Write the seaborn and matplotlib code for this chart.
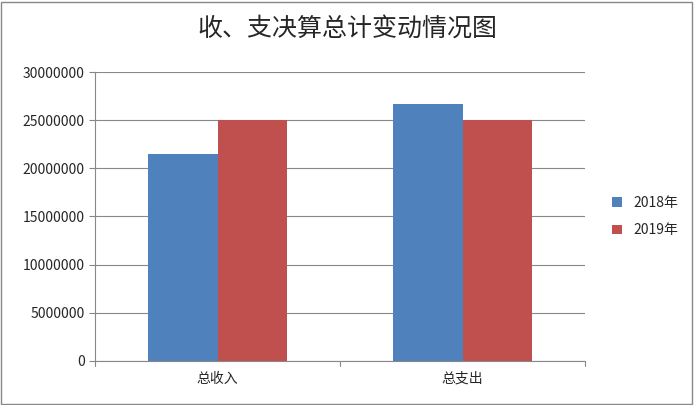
import matplotlib
matplotlib.use("Agg")
import matplotlib.pyplot as plt
import seaborn as sns
import pandas as pd
from matplotlib.patches import Rectangle

categories = ["总收入", "总支出"]
years = ["2018年", "2019年"]
v2018 = [21500000, 26700000]
v2019 = [25000000, 25000000]

df = pd.DataFrame({
    "cat": categories * 2,
    "year": [years[0]] * 2 + [years[1]] * 2,
    "val": v2018 + v2019,
})

sns.set_style("white")
plt.rcParams['font.family'] = ['Noto Sans CJK SC', 'DejaVu Sans']

fig = plt.figure(figsize=(6.94, 4.05), dpi=100)
ax = fig.add_axes([0.137, 0.109, 0.706, 0.713])
sns.barplot(data=df, x="cat", y="val", hue="year", palette=["#4F81BD", "#C0504D"],
            width=0.57, ax=ax, saturation=1, edgecolor="none")
ax.set_ylim(0, 30000000)
ax.set_xlim(-0.5, 1.5)
ax.set_yticks(range(0, 30000001, 5000000))
ax.set_yticklabels([str(v) for v in range(0, 30000001, 5000000)], fontsize=10)
ax.yaxis.grid(True, color="#888888", linewidth=0.8)
ax.set_axisbelow(True)
ax.set_xlabel("")
ax.set_ylabel("")
ax.tick_params(axis="x", labelsize=10, length=0, pad=8)
ax.tick_params(axis="y", length=4, left=True, color="#888888")
for x in [-0.5, 0.5, 1.5]:
    ax.plot([x, x], [0, -0.018], transform=ax.get_xaxis_transform(), color="#888888", lw=0.8, clip_on=False)
for s in ["top", "right"]:
    ax.spines[s].set_visible(False)
for s in ["left", "bottom"]:
    ax.spines[s].set_color("#888888")
ax.legend(loc="center left", bbox_to_anchor=(1.03, 0.5), frameon=False, fontsize=10,
          handlelength=0.7, handleheight=0.7, labelspacing=1.0)
fig.text(0.5, 0.93, "收、支决算总计变动情况图", ha="center", va="center", fontsize=18)
fig.patches.append(Rectangle((0.002, 0.003), 0.995, 0.993, transform=fig.transFigure,
                             fill=False, edgecolor="#888888", lw=1))
fig.savefig("out.png", dpi=100)
